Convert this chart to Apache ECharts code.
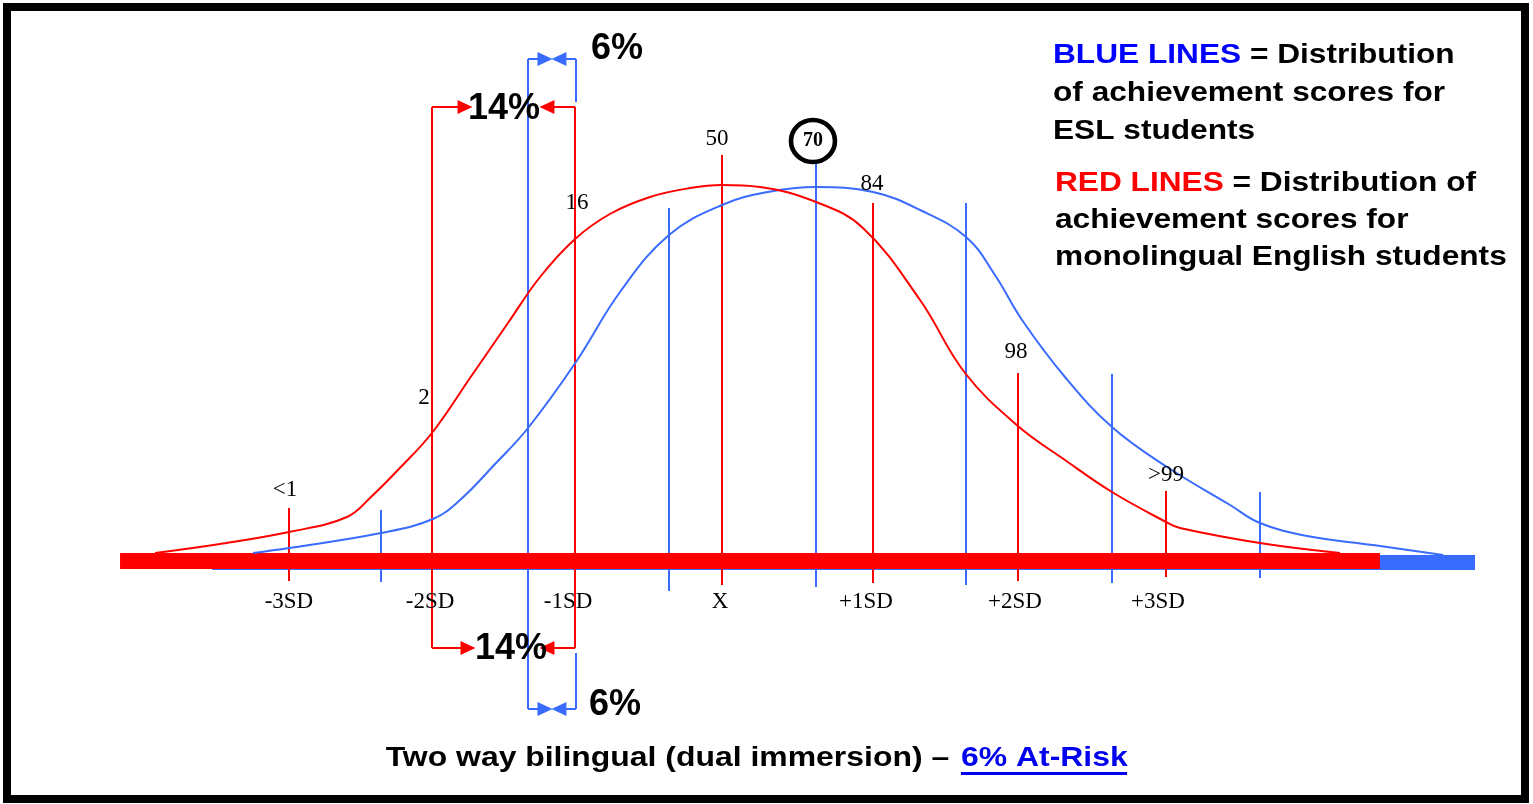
<!DOCTYPE html>
<html><head><meta charset="utf-8">
<script src="https://cdn.jsdelivr.net/npm/echarts@6/dist/echarts.min.js"></script>
<style>html,body{margin:0;padding:0;background:#fff}#c{width:1533px;height:804px}</style>
</head><body><div id="c"></div>
<script>
// x: standard-deviation units of the red (monolingual) distribution, mean = 0
// y: relative height of the distribution curves
const redCurveX = [-3.870,-3.427,-2.956,-2.560,-2.389,-2.212,-1.980,-1.720,-1.461,-1.242,-1.003,-0.765,-0.491,-0.218,0,0.259,0.642,0.962,1.352,1.659,2.020,2.341,2.662,3.031,3.126,3.672,4.218];
const redCurveY = [2,4.25,7.25,11,16.25,22.75,32,45.75,59.5,71,80.5,86.75,91,93.25,94,93.5,89.75,83.25,65.25,47,33.75,25.25,17.25,9.75,8.25,4.5,2];
const blueCurveX = [-3.201,-2.956,-2.328,-1.973,-1.788,-1.549,-1.324,-0.997,-0.696,-0.362,0,0.314,0.642,1.031,1.352,1.666,1.863,2.048,2.341,2.662,3.038,3.468,3.672,3.993,4.444,4.922];
const blueCurveY = [2,3.25,7,10.5,15.25,24.25,33.25,49.75,67.25,81.5,89,92.25,93.5,92.25,87.75,81,71.5,60.25,46,33.5,23.5,14,9.5,6.25,4,1.5];

const redLineX = [-2.956,-1.980,-1.003,0,1.031,2.020,3.031];
const redLineTop = [13.25,113.5,113.5,101.5,89.5,47,17.5];
const redLineBottom = [-5,-21.75,-21.75,-6,-5.5,-5,-4];
const blueLineX = [-2.328,-1.324,-0.362,0.642,1.666,2.662,3.672];
const blueLineTop = [12.75,125.5,88.25,101,89.5,46.75,17.25];
const blueLineBottom = [-5.25,-37,-7.5,-6.5,-6,-5.5,-4.25];

const sdLabels = ['-3SD','-2SD','-1SD','X','+1SD','+2SD','+3SD'];
const sdLabelX = [-2.956,-1.993,-1.051,-0.014,0.983,2.0,2.976];
const sdLabelY = -10.25;

const percentileLabels = ['<1','2','16','50','84','98','>99'];
const percentileX = [-2.983,-2.034,-0.990,-0.034,1.024,2.007,3.031];
const percentileY = [17.75,40.75,89.5,105.5,94.25,52.25,21.5];
const eslMeanLabel = '70';
const eslMeanPos = [0.621,105];

const redBarSpan = [-4.109,4.491];
const blueBarSpan = [-3.481,5.140];

// at-risk brackets: [from, arrow end] pairs and levels
const redBracketLeft = [-1.980,-1.754];
const redBracketLeftLow = [-1.980,-1.734];
const redBracketRight = [-1.003,-1.195];
const redBracketLevels = [113.5,-21.75];
const blueBracketLeft = [-1.324,-1.208];
const blueBracketRight = [-0.997,-1.113];
const blueBracketLevels = [125.5,-37];
const blueBracketRightTicks = [[125.5,114.75],[-23,-37]];
const pctLabels = ['14%','14%','6%','6%'];
const pctX = [-1.488,-1.440,-0.717,-0.730];
const pctY = [113,-22,128,-36];

const RED = '#ff0000', BLUE = '#3a6bff';
const zip = (xs, ys) => xs.map((x,i)=>[x, ys[i]]);
const vSeg = (xs, tops, bots) => xs.map((x,i)=>[{coord:[x,tops[i]]},{coord:[x,bots[i]]}]);
const arrowSeg = (pair, y) => [{coord:[pair[0],y],symbol:'none'},{coord:[pair[1],y],symbol:'triangle',symbolSize:[14,15]}];

const blueMarks = vSeg(blueLineX, blueLineTop, blueLineBottom);
blueBracketLevels.forEach(y => { blueMarks.push(arrowSeg(blueBracketLeft,y)); blueMarks.push(arrowSeg(blueBracketRight,y)); });
blueBracketRightTicks.forEach(t => blueMarks.push([{coord:[blueBracketRight[0],t[0]]},{coord:[blueBracketRight[0],t[1]]}]));

const redMarks = vSeg(redLineX, redLineTop, redLineBottom);
redMarks.push(arrowSeg(redBracketLeft, redBracketLevels[0]));
redMarks.push(arrowSeg(redBracketLeftLow, redBracketLevels[1]));
redMarks.push(arrowSeg(redBracketRight, redBracketLevels[0]));
redMarks.push(arrowSeg(redBracketRight, redBracketLevels[1]));

const markBase = {silent:true, symbol:'none', label:{show:false}, emphasis:{disabled:true}, animation:false};
const textSeries = (xs, ys, texts, richStyle, z) => ({
  type:'scatter', z, silent:true, symbolSize:1, itemStyle:{color:'rgba(255,255,255,0)', opacity:1},
  data: xs.map((x,i)=>({value:[x, Array.isArray(ys)?ys[i]:ys], name:texts[i]})),
  label:{show:true, position:'inside', formatter:'{t|{b}}', textBorderWidth:0, color:'#000',
    rich:{t:Object.assign({color:'#000000', textBorderWidth:0}, richStyle)}}
});

const SANS = '"Liberation Sans", Arial, sans-serif';
const SERIF = '"Liberation Serif", "Times New Roman", serif';
const legendFont = 'bold 28px ' + SANS;
const legendLines = [
  {t:'{b|BLUE LINES} = Distribution', x:1053, y:55},
  {t:'of achievement scores for', x:1053, y:93},
  {t:'ESL students', x:1053, y:131},
  {t:'{r|RED LINES} = Distribution of', x:1055, y:183},
  {t:'achievement scores for', x:1055, y:220},
  {t:'monolingual English students', x:1055, y:257}
];

const chart = echarts.init(document.getElementById('c'));
chart.setOption({
  animation:false,
  backgroundColor:'#ffffff',
  grid:{left:18.8, right:19.9, top:1, bottom:3},
  xAxis:{type:'value', min:-4.8, max:5.4, show:false},
  yAxis:{type:'value', min:-60, max:140, show:false},
  series:[
    {type:'line', z:1, data:[], markLine:Object.assign({}, markBase, {lineStyle:{color:BLUE, width:15, type:'solid', cap:'butt'},
      data:[[{coord:[blueBarSpan[0],-0.375]},{coord:[blueBarSpan[1],-0.375]}]]})},
    {type:'line', z:2, data:[], markLine:Object.assign({}, markBase, {lineStyle:{color:BLUE, width:2, type:'solid'}, data:blueMarks})},
    {type:'line', z:3, data:[], markLine:Object.assign({}, markBase, {lineStyle:{color:RED, width:16, type:'solid', cap:'butt'},
      data:[[{coord:[redBarSpan[0],0]},{coord:[redBarSpan[1],0]}]]})},
    {type:'line', z:4, data:[], markLine:Object.assign({}, markBase, {lineStyle:{color:RED, width:2, type:'solid'}, data:redMarks})},
    {type:'line', z:5, name:'ESL', data:zip(blueCurveX, blueCurveY), smooth:0.4, showSymbol:false, symbol:'none', silent:true,
      lineStyle:{color:BLUE, width:2}},
    {type:'line', z:6, name:'Monolingual', data:zip(redCurveX, redCurveY), smooth:0.4, showSymbol:false, symbol:'none', silent:true,
      lineStyle:{color:RED, width:2}},
    textSeries(percentileX, percentileY, percentileLabels, {fontFamily:SERIF, fontSize:23}, 7),
    textSeries(sdLabelX, sdLabelY, sdLabels, {fontFamily:SERIF, fontSize:23}, 7),
    textSeries(pctX, pctY, pctLabels, {fontFamily:SANS, fontSize:36, fontWeight:'bold'}, 8),
    {type:'scatter', z:9, silent:true, symbol:'circle', symbolSize:[44,42],
      itemStyle:{color:'#fff', borderColor:'#000', borderWidth:4.5, opacity:1},
      data:[{value:eslMeanPos, name:eslMeanLabel}],
      label:{show:true, position:'inside', formatter:'{t|{b}}', rich:{t:{color:'#000000', fontFamily:SERIF, fontWeight:'bold', fontSize:20, textBorderWidth:0}}}}
  ],
  graphic:[
    {type:'rect', silent:true, shape:{x:7, y:7, width:1518, height:792}, style:{fill:'none', stroke:'#000', lineWidth:8}},
    ...legendLines.map(l => ({type:'text', silent:true, x:l.x, y:l.y, scaleX:1.13,
      style:{text:l.t, font:legendFont, fill:'#000', verticalAlign:'middle', align:'left',
        rich:{b:{fill:'#0000ff', font:legendFont}, r:{fill:'#ff0000', font:legendFont}}}})),
    {type:'text', silent:true, x:958, y:758, scaleX:1.14,
      style:{text:'Two way bilingual (dual immersion) \u2013 ', font:'bold 28px ' + SANS, fill:'#000', align:'right', verticalAlign:'middle'}},
    {type:'text', silent:true, x:961, y:758, scaleX:1.14,
      style:{text:'6% At-Risk', font:'bold 28px ' + SANS, fill:'#0000ee', align:'left', verticalAlign:'middle'}},
    {type:'line', silent:true, shape:{x1:961, y1:773.5, x2:1127, y2:773.5}, style:{stroke:'#0000ee', lineWidth:3}}
  ]
});
</script>
</body></html>
